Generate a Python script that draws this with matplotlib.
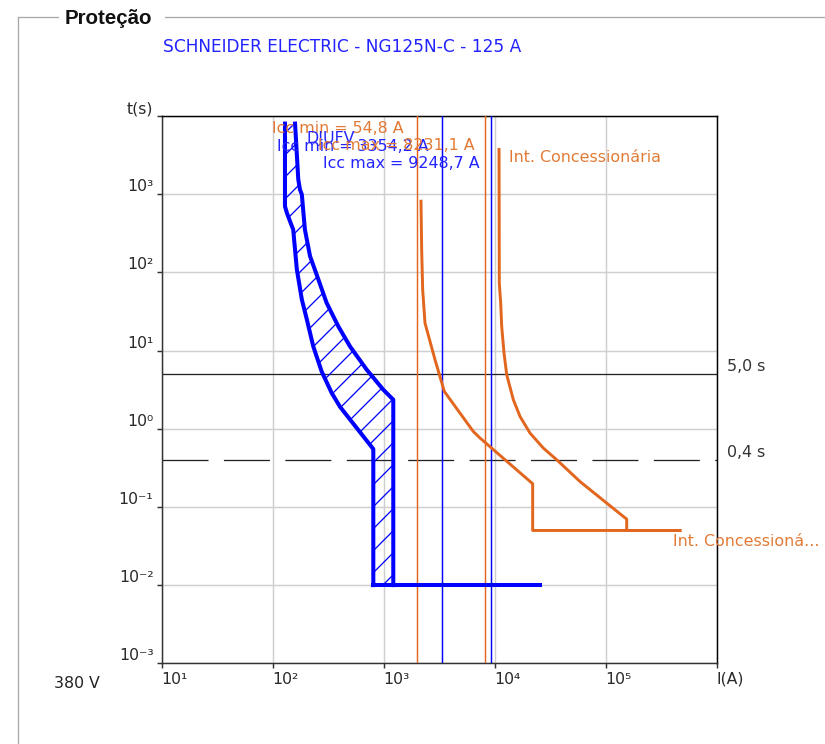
import numpy as np
import matplotlib
matplotlib.use("Agg")
import matplotlib.pyplot as plt
from matplotlib.patches import Polygon
from matplotlib.ticker import NullLocator, FixedLocator

# ---------------------------------------------------------------- data
x_ticks = [1e1, 1e2, 1e3, 1e4, 1e5, 1e6]
x_tick_labels = ['10¹', '10²', '10³', '10⁴', '10⁵', 'I(A)']
y_ticks = [1e-3, 1e-2, 1e-1, 1e0, 1e1, 1e2, 1e3, 1e4]
y_tick_labels = ['10⁻³', '10⁻²', '10⁻¹', '10⁰', '10¹', '10²', '10³', 't(s)']

# DJUFV breaker band (current in A, time in s)
dj_min_I = [129, 129, 134, 145, 153, 165, 183, 203, 232, 276, 340, 404, 806, 806]
dj_min_t = [8000, 700, 580, 430, 353, 109, 45, 25, 11.3, 5.4, 2.87, 1.91, 0.55, 0.01]
dj_max_I = [159, 170, 176, 183, 195, 217, 258, 306, 390, 497, 703, 991, 1220, 1220]
dj_max_t = [8000, 1542, 1148, 991, 353, 161, 81, 40.7, 20.4, 11.3, 5.69, 3.16, 2.35, 0.01]
dj_inst_I = [806, 25600]
dj_inst_t = [0.01, 0.01]

# Utility breaker curves
conc_a_I = [2168, 2198, 2244, 2355, 2899, 3516, 6414, 7379, 21980, 21980, 467000]
conc_a_t = [813, 196, 60.3, 22.5, 7.64, 3.0, 0.923, 0.760, 0.198, 0.05, 0.05]
conc_b_I = [10940, 10990, 11000, 11320, 11560, 12130, 12830, 14720, 16900, 20800,
            27400, 36200, 58700, 102000, 154600, 154600, 467000]
conc_b_t = [3736, 146, 73.4, 40.7, 20.4, 9.31, 4.91, 2.35, 1.437, 0.881,
            0.566, 0.401, 0.211, 0.112, 0.0698, 0.05, 0.05]

# Short-circuit current markers
icc_orange = [1980, 8231.1]
icc_blue = [3354.2, 9248.7]

# Reference times
t_solid = 5.0
t_dashed = 0.4

# ---------------------------------------------------------------- style
W, H, DPI = 825, 744, 132
BLUE = '#0000ff'
BLUE_TXT = '#2323ff'
ORANGE = '#e2661e'
ORANGE_TXT = '#e27a36'
DARK = '#333333'

plt.rcParams['font.family'] = ['DejaVu Sans']
plt.rcParams['lines.scale_dashes'] = False
plt.rcParams['hatch.linewidth'] = 0.7
plt.rcParams['hatch.color'] = BLUE

fig = plt.figure(figsize=(W / DPI, H / DPI + 1e-6), dpi=DPI)
fig.patch.set_facecolor('white')

L, R, T, B = 161.7, 716.7, 116.0, 663.3
ax = fig.add_axes([L / W, 1 - B / H, (R - L) / W, (B - T) / H])
ax.set_xscale('log')
ax.set_yscale('log')
ax.set_xlim(1e1, 1e6)
ax.set_ylim(1e-3, 1e4)

ax.xaxis.set_major_locator(FixedLocator(x_ticks))
ax.yaxis.set_major_locator(FixedLocator(y_ticks))
ax.xaxis.set_minor_locator(NullLocator())
ax.yaxis.set_minor_locator(NullLocator())
ax.set_xticklabels(x_tick_labels)
ax.set_yticklabels(y_tick_labels)
for lbl in ax.get_xticklabels():
    lbl.set_ha('left')
for lbl in ax.get_yticklabels():
    lbl.set_va('bottom')
ax.tick_params(axis='both', direction='out', length=2.7, width=0.8,
               color=DARK, labelsize=8.6, labelcolor='#2a2a2a')
ax.tick_params(axis='x', pad=2.0)
ax.tick_params(axis='y', pad=1.8)

ax.grid(True, which='major', color='#cfcfcf', lw=0.8, zorder=0)
ax.set_axisbelow(True)
for side in ('left', 'bottom'):
    ax.spines[side].set_color(DARK)
    ax.spines[side].set_linewidth(0.8)
for side in ('top', 'right'):
    ax.spines[side].set_color('black')
    ax.spines[side].set_linewidth(0.8)

# reference times
ax.axhline(t_solid, color='#222222', lw=0.7, zorder=2)
ax.axhline(t_dashed, color='#222222', lw=0.7, ls=(0, (25.1, 8.4)), zorder=2)

# short-circuit markers
for v in icc_orange:
    ax.axvline(v, color=ORANGE, lw=0.8, zorder=3)
for v in icc_blue:
    ax.axvline(v, color=BLUE, lw=0.8, zorder=3)

# DJUFV band with hatch
band = np.column_stack([dj_min_I + dj_max_I[::-1], dj_min_t + dj_max_t[::-1]])
ax.add_patch(Polygon(band, closed=True, fill=False, hatch='//',
                     edgecolor=BLUE, lw=0, zorder=4))
ax.plot(dj_min_I, dj_min_t, color=BLUE, lw=2.2, zorder=5)
ax.plot(dj_max_I, dj_max_t, color=BLUE, lw=2.2, zorder=5)
ax.plot(dj_inst_I, dj_inst_t, color=BLUE, lw=2.2, zorder=5)

# utility curves
ax.plot(conc_a_I, conc_a_t, color=ORANGE, lw=1.6, zorder=5)
ax.plot(conc_b_I, conc_b_t, color=ORANGE, lw=1.6, zorder=5)

# ---------------------------------------------------------------- overlay in pixels
ov = fig.add_axes([0, 0, 1, 1], facecolor='none')
ov.set_xlim(0, W)
ov.set_ylim(H, 0)
ov.axis('off')

box = '#a8a8a8'
ov.plot([17.5, 58], [17.5, 17.5], color=box, lw=0.7)
ov.plot([165, W], [17.5, 17.5], color=box, lw=0.7)
ov.plot([17.5, 17.5], [17.5, H], color=box, lw=0.7)
ov.text(65, 18, 'Proteção', fontsize=11.2, fontweight='bold',
        family=['Liberation Sans', 'DejaVu Sans'], color='#111111',
        ha='left', va='center')
ov.text(163, 47, 'SCHNEIDER ELECTRIC - NG125N-C - 125 A', fontsize=9.3,
        color=BLUE_TXT, ha='left', va='center')

fs = 8.7
ov.text(271.7, 128.3, 'Icc min = 54,8 A', fontsize=fs, color=ORANGE_TXT,
        ha='left', va='center')
ov.text(306.7, 138, 'DJUFV', fontsize=fs, color=BLUE_TXT, ha='left', va='center')
ov.text(276.7, 146, 'Icc min = 3354,2 A', fontsize=fs, color=BLUE_TXT,
        ha='left', va='center')
ov.text(475, 145, 'Icc max = 8231,1 A', fontsize=fs, color=ORANGE_TXT,
        ha='right', va='center')
ov.text(480, 163.3, 'Icc max = 9248,7 A', fontsize=fs, color=BLUE_TXT,
        ha='right', va='center')
ov.text(509, 157.7, 'Int. Concessionária', fontsize=fs, color=ORANGE_TXT,
        ha='left', va='center')
ov.text(672.7, 541.7, 'Int. Concessioná...', fontsize=fs, color=ORANGE_TXT,
        ha='left', va='center')
ov.text(727, 366, '5,0 s', fontsize=fs, color=DARK, ha='left', va='center')
ov.text(727, 452.7, '0,4 s', fontsize=fs, color=DARK, ha='left', va='center')
ov.text(100, 683, '380 V', fontsize=8.6, color='#222222', ha='right', va='center')

fig.savefig('out.png', dpi=DPI, facecolor='white')
